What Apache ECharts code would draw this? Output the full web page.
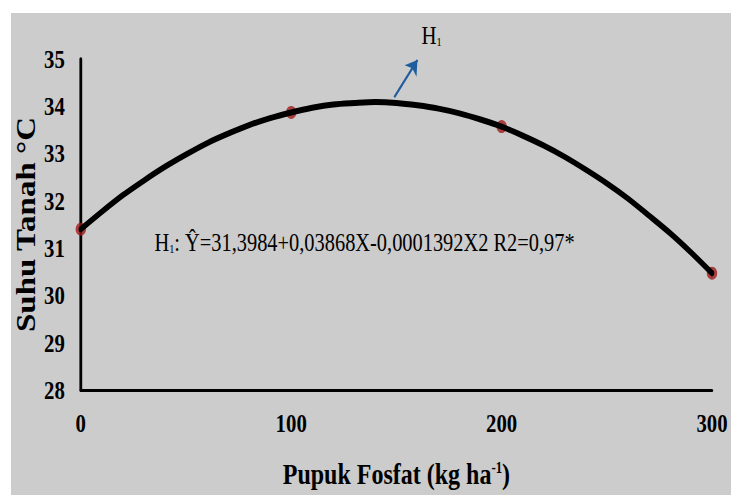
<!DOCTYPE html>
<html>
<head>
<meta charset="utf-8">
<script src="https://cdn.jsdelivr.net/npm/echarts@6/dist/echarts.min.js"></script>
<style>
  html, body { margin: 0; padding: 0; background: #ffffff; overflow: hidden; width: 731px; height: 495px; }
  #panel { position: absolute; left: 11px; top: 13px; width: 720px; height: 482px; background: #cccccc; }
  /* chart is laid out wider and condensed horizontally, like the narrow print layout */
  #chart { position: absolute; left: 0; top: 0; width: 914px; height: 495px; transform: scaleX(0.8); transform-origin: 0 0; }
</style>
</head>
<body>
<div id="panel"></div>
<div id="chart"></div>
<script>
// Observed soil temperature per phosphate dose
const doses = [0, 100, 200, 300];
const soilTemp = [31.40, 33.87, 33.57, 30.47];

// Quadratic response curve H1, sampled along the dose range
const curveDoses = [0, 10, 20, 30, 40, 50, 60, 70, 80, 90, 100, 110, 120, 130, 140, 150,
                    160, 170, 180, 190, 200, 210, 220, 230, 240, 250, 260, 270, 280, 290, 300];
const curveTemp = [31.40, 31.77, 32.12, 32.43, 32.72, 32.98, 33.22, 33.42, 33.60, 33.75, 33.87,
                   33.97, 34.04, 34.07, 34.09, 34.07, 34.02, 33.95, 33.85, 33.72, 33.57, 33.38,
                   33.17, 32.93, 32.66, 32.37, 32.05, 31.69, 31.32, 30.91, 30.47];

// Arrow pointing from the curve to the H1 label
const arrowFrom = [149, 34.19];
const arrowTo = [160, 34.98];

const FONT = '"Liberation Serif", "Times New Roman", serif';

const chart = echarts.init(document.getElementById('chart'), null, { renderer: 'svg' });

chart.setOption({
  backgroundColor: 'transparent',
  animation: false,
  grid: { left: 101, right: 24, top: 59, bottom: 105 },
  xAxis: {
    type: 'value',
    min: 0, max: 300, interval: 100,
    name: 'Pupuk Fosfat (kg ha{sup|-1})',
    nameLocation: 'middle',
    nameGap: 69,
    nameMoveOverlap: false,
    nameTextStyle: {
      fontFamily: FONT, fontSize: 30, fontWeight: 'bold', color: '#000',
      verticalAlign: 'top',
      rich: { sup: { fontFamily: FONT, fontSize: 16, fontWeight: 'bold', color: '#000', verticalAlign: 'top' } }
    },
    axisLine: { show: true, lineStyle: { color: '#000', width: 3 } },
    axisTick: { show: false },
    splitLine: { show: false },
    axisLabel: { fontFamily: FONT, fontSize: 26, fontWeight: 'bold', color: '#000', margin: 20 }
  },
  yAxis: {
    type: 'value',
    min: 28, max: 35, interval: 1,
    name: 'Suhu Tanah °C',
    nameLocation: 'middle',
    nameGap: 52,
    nameMoveOverlap: false,
    nameTextStyle: { fontFamily: FONT, fontSize: 33, fontWeight: 'bold', color: '#000' },
    axisLine: { show: true, onZero: false, lineStyle: { color: '#000', width: 3.5 } },
    axisTick: { show: false },
    splitLine: { show: false },
    axisLabel: { fontFamily: FONT, fontSize: 26, fontWeight: 'bold', color: '#000', margin: 20 }
  },
  series: [
    {
      type: 'scatter',
      data: doses.map((d, i) => [d, soilTemp[i]]),
      symbol: 'circle',
      symbolSize: 13,
      itemStyle: { color: '#a01a1a' },
      z: 2,
      clip: false
    },
    {
      type: 'line',
      data: curveDoses.map((d, i) => [d, curveTemp[i]]),
      smooth: 0.3,
      showSymbol: false,
      lineStyle: { color: '#000', width: 6, cap: 'round' },
      z: 3,
      clip: false,
      markLine: {
        silent: true,
        symbol: ['none', 'arrow'],
        symbolSize: 14,
        label: { show: false },
        lineStyle: { color: '#1f5c9e', width: 2.5, type: 'solid' },
        data: [[{ coord: arrowFrom }, { coord: arrowTo }]]
      }
    }
  ],
  graphic: [
    {
      type: 'text',
      left: 527, top: 22,
      style: {
        text: '{t|H}{s|1}',
        rich: {
          t: { fontFamily: FONT, fontSize: 26, fill: '#000', lineHeight: 28 },
          s: { fontFamily: FONT, fontSize: 13, fill: '#000', verticalAlign: 'bottom', lineHeight: 13 }
        }
      }
    },
    {
      type: 'text',
      left: 193, top: 229,
      style: {
        text: '{t|H}{s|1}{t|: Ŷ=31,3984+0,03868X-0,0001392X2 R2=0,97*}',
        rich: {
          t: { fontFamily: FONT, fontSize: 25.5, fill: '#000', lineHeight: 27 },
          s: { fontFamily: FONT, fontSize: 13, fill: '#000', verticalAlign: 'bottom', lineHeight: 13 }
        }
      }
    }
  ]
});
</script>
</body>
</html>
